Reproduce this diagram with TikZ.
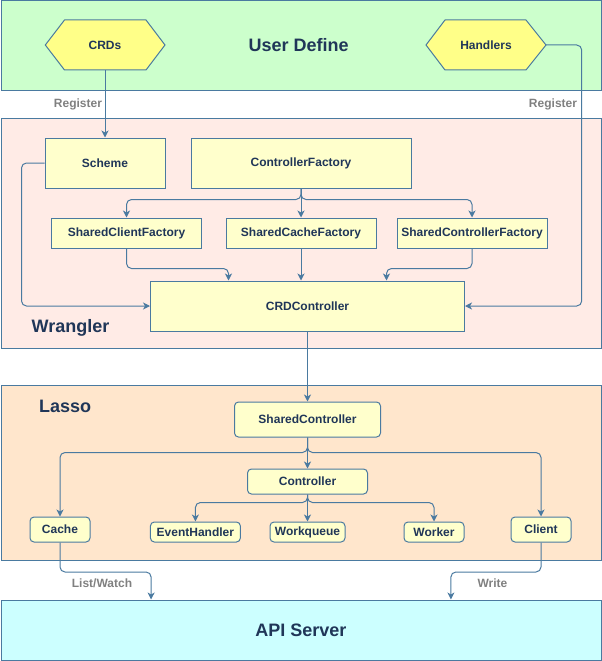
\documentclass[tikz,border=0pt]{standalone}
\usepackage{fontspec}
\setmainfont{Liberation Sans}
\usetikzlibrary{arrows.meta,calc}
\definecolor{strk}{RGB}{74,122,160}
\definecolor{txt}{RGB}{32,54,88}
\definecolor{lbl}{RGB}{128,128,128}
\definecolor{bandgreen}{HTML}{CCFFCC}
\definecolor{bandpink}{HTML}{FFEBE6}
\definecolor{bandorange}{HTML}{FFE6CC}
\definecolor{bandcyan}{HTML}{CCFFFF}
\definecolor{boxyellow}{HTML}{FFFFCC}
\definecolor{hexyellow}{HTML}{FFFF88}
\tikzset{
  band/.style={draw=strk, line width=1pt, inner sep=0pt},
  box/.style={draw=strk, line width=1pt, fill=boxyellow, inner sep=0pt, text=txt,
    font=\fontsize{12}{14}\selectfont\bfseries},
  rbox/.style={box, rounded corners=4pt},
  hexshape/.style={draw=strk, line width=1pt, fill=hexyellow},
  hexlabel/.style={inner sep=0pt, text=txt, font=\fontsize{12}{14}\selectfont\bfseries},
  title/.style={inner sep=0pt, text=txt, font=\fontsize{18}{21}\selectfont\bfseries},
  elabel/.style={inner sep=0pt, text=lbl, font=\fontsize{12}{14}\selectfont\bfseries},
  conn/.style={draw=strk, line width=1pt, rounded corners=5pt,
    -{Stealth[length=7pt,width=7pt,inset=2pt]}},
  plain/.style={draw=strk, line width=1pt, rounded corners=5pt},
}
\begin{document}
\begin{tikzpicture}[x=1pt,y=-1pt]
\useasboundingbox (0,0) rectangle (602,661);
% bands
\node[band, fill=bandgreen, minimum width=600pt, minimum height=89pt] (ud) at (301,45.5) {};
\node[band, fill=bandpink, minimum width=600pt, minimum height=230pt] (wr) at (301,233) {};
\node[band, fill=bandorange, minimum width=600pt, minimum height=175pt] (la) at (301,472.5) {};
\node[band, fill=bandcyan, minimum width=600pt, minimum height=60pt] (api) at (301,630) {};
% titles
\node[title] (udt) at (298.7,45) {User Define};
\node[title, anchor=west] (wrt) at (31.5,327.7) {Wrangler};
\node[title, anchor=west] (lat) at (39,406.5) {Lasso};
\node[title] (apit) at (301,630) {API Server};
% hexagons
\filldraw[hexshape] (45.3,45) -- (64.5,20) -- (146,20) -- (165,45) -- (146,70) -- (64.5,70) -- cycle;
\node[hexlabel, minimum width=120pt, minimum height=50pt] (crds) at (105,45) {CRDs};
\filldraw[hexshape] (426,45) -- (445,20) -- (526,20) -- (546,45) -- (526,70) -- (445,70) -- cycle;
\node[hexlabel, minimum width=120pt, minimum height=50pt] (handlers) at (486,45) {Handlers};
% wrangler boxes
\node[box, minimum width=120pt, minimum height=50pt] (scheme) at (105,163) {Scheme};
\node[box, minimum width=220pt, minimum height=50pt] (cfac) at (301,163) {ControllerFactory};
\node[box, minimum width=150pt, minimum height=30pt] (scf) at (126.5,233) {SharedClientFactory};
\node[box, minimum width=150pt, minimum height=30pt] (scaf) at (301,233) {SharedCacheFactory};
\node[box, minimum width=150pt, minimum height=30pt] (sctf) at (472,233) {SharedControllerFactory};
\node[box, minimum width=314pt, minimum height=50pt] (crdc) at (307.5,306) {CRDController};
% lasso boxes
\node[rbox, minimum width=146pt, minimum height=35pt] (shc) at (307.5,419.5) {SharedController};
\node[rbox, minimum width=120pt, minimum height=25pt] (ctrl) at (307.5,481.5) {Controller};
\node[rbox, minimum width=60pt, minimum height=25pt] (cache) at (60,529.5) {Cache};
\node[rbox, minimum width=90pt, minimum height=20pt] (evh) at (195.4,532) {EventHandler};
\node[rbox, minimum width=75pt, minimum height=20pt] (wq) at (307.5,532) {Workqueue};
\node[rbox, minimum width=60pt, minimum height=20pt] (worker) at (434,532) {Worker};
\node[rbox, minimum width=60pt, minimum height=25pt] (client) at (541,529.5) {Client};
% connectors
\draw[conn] (crds.south) -- (scheme.north);
\draw[conn] (handlers.east) -- ++(35.5,0) |- (crdc.east);
\draw[conn] (scheme.west) -- ++(-23,0) |- (crdc.west);
\draw[conn] (cfac.south) -- ++(0,11) -| (scf.north);
\draw[conn] (cfac.south) -- (scaf.north);
\draw[conn] (cfac.south) -- ++(0,11) -| (sctf.north);
\draw[conn] (scf.south) -- ++(0,20) -| ($(crdc.north west)+(78.5,0)$);
\draw[conn] (scaf.south) -- (scaf.south |- crdc.north);
\draw[conn] (sctf.south) -- ++(0,20) -| ($(crdc.north east)+(-78.5,0)$);
\draw[conn] (crdc.south) -- (shc.north);
\draw[conn] (shc.south) -- ++(0,15) -| (cache.north);
\draw[conn] (shc.south) -- (ctrl.north);
\draw[conn] (shc.south) -- ++(0,15) -| (client.north);
\draw[conn] (ctrl.south) -- ++(0,8) -| (evh.north);
\draw[conn] (ctrl.south) -- (wq.north);
\draw[conn] (ctrl.south) -- ++(0,8) -| (worker.north);
\draw[conn] (cache.south) -- ++(0,29.5) -| ($(api.north west)+(150.6,0)$);
\draw[conn] (client.south) -- ++(0,29.5) -| ($(api.north west)+(450.4,0)$);
% edge labels
\node[elabel] (reg1) at (78,104) {Register};
\node[elabel] (reg2) at (553,104) {Register};
\node[elabel] (lw) at (102,583.3) {List/Watch};
\node[elabel] (wr1) at (492.5,583.3) {Write};
\end{tikzpicture}
\end{document}
